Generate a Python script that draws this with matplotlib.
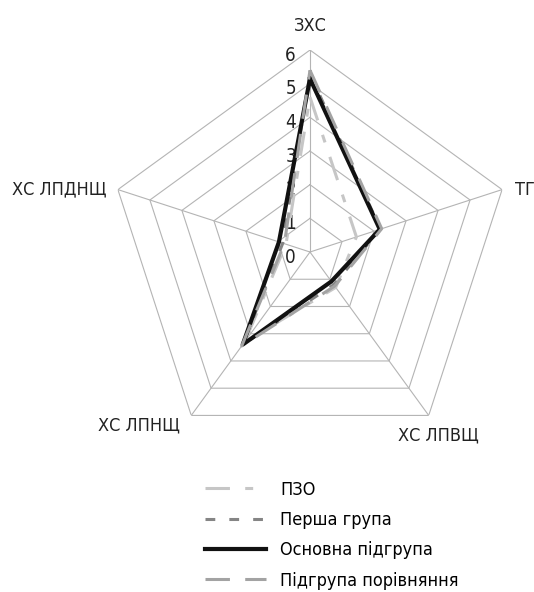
import numpy as np
import matplotlib.pyplot as plt
from matplotlib import transforms

plt.rcParams['font.family'] = ['DejaVu Sans']
plt.rcParams['font.stretch'] = 'condensed'

# Categories (clockwise from the top)
categories = ['ЗХС', 'ТГ', 'ХС ЛПВЩ', 'ХС ЛПНЩ', 'ХС ЛПДНЩ']
levels = [0, 1, 2, 3, 4, 5, 6]

# Series values
pzo = [4.6, 1.45, 1.3, 3.3, 0.75]
persha = [5.3, 2.2, 1.2, 3.4, 0.85]
osnovna = [5.15, 2.18, 1.08, 3.4, 0.97]
porivn = [5.4, 2.24, 1.25, 3.45, 0.8]

series = [
    ('ПЗО', pzo, '#c6c6c6', 2.2, (0, (8, 5, 2.6, 5))),
    ('Перша група', persha, '#858585', 2.2, (0, (3.2, 4.6))),
    ('Основна підгрупа', osnovna, '#111111', 3.0, '-'),
    ('Підгрупа порівняння', porivn, '#a3a3a3', 2.2, (0, (8, 5))),
]

n = len(categories)
angles = np.arange(n) * 2 * np.pi / n
closed = np.append(angles, angles[0])

fig = plt.figure(figsize=(5.34, 5.92), dpi=100)
ax = fig.add_axes([0.2022, 0.2331, 0.7566, 0.6824], projection='polar')
ax.set_theta_offset(np.pi / 2)
ax.set_theta_direction(-1)
ax.set_ylim(0, 6)
ax.grid(False)
ax.spines['polar'].set_visible(False)
ax.set_xticks([])
ax.set_yticks([])
ax.patch.set_visible(False)

# pentagon grid
grid_c = '#b4b4b4'
for lv in levels[1:]:
    ax.plot(closed, [lv] * (n + 1), color=grid_c, lw=0.8, zorder=1)
for a in angles:
    ax.plot([a, a], [0, levels[-1]], color=grid_c, lw=0.8, zorder=1)

# radial tick labels
off = transforms.offset_copy(ax.transData, fig=fig, x=-14, y=-5, units='dots')
for lv in levels:
    ax.text(0, lv, str(lv), transform=off, ha='right', va='center',
            fontsize=13.5, color='#222222')

# category labels
label_offsets = [(0, 24, 'center'), (13, 0, 'left'), (10, -20, 'center'),
                 (-11, -10, 'right'), (-11, 0, 'right')]
for a, lab, (dx, dy, ha) in zip(angles, categories, label_offsets):
    tr = transforms.offset_copy(ax.transData, fig=fig, x=dx, y=dy, units='dots')
    ax.text(a, levels[-1], lab, transform=tr, ha=ha, va='center',
            fontsize=13, color='#222222')

handles = []
for name, vals, col, lw, ls in series:
    h, = ax.plot(closed, vals + vals[:1], color=col, lw=lw, ls=ls,
                 label=name, zorder=3, solid_joinstyle='round')
    handles.append(h)

fig.legend(handles=handles, loc='upper left', bbox_to_anchor=(0.384, 0.188),
           frameon=False, fontsize=13, handlelength=3.4, handletextpad=0.75,
           labelspacing=0.68, borderpad=0, borderaxespad=0)

fig.savefig('out.png', dpi=100)
